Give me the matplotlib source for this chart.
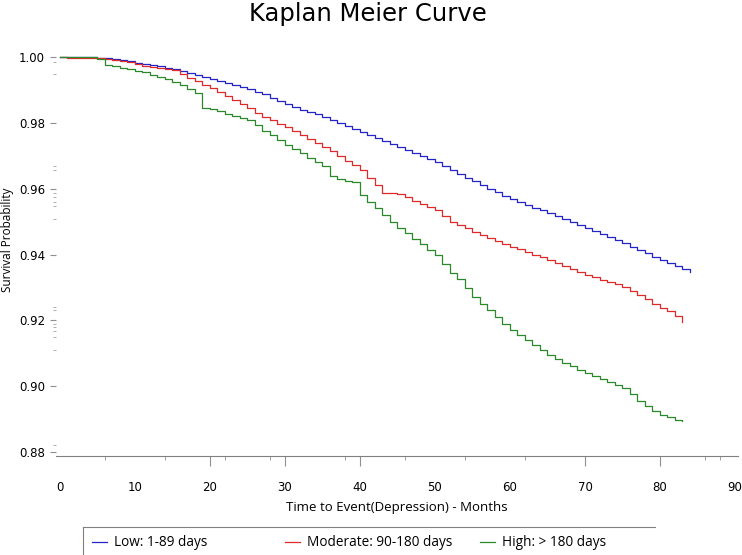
import numpy as np
import matplotlib.pyplot as plt
from matplotlib.lines import Line2D

# survival estimates, one value per month
low = [1.0000, 1.0000, 1.0000, 0.9999, 0.9999, 0.9998, 0.9996, 0.9993, 0.9991, 0.9987,
       0.9983, 0.9980, 0.9976, 0.9972, 0.9968, 0.9963, 0.9957, 0.9951, 0.9945, 0.9939,
       0.9932, 0.9926, 0.9920, 0.9914, 0.9908, 0.9902, 0.9895, 0.9888, 0.9876, 0.9866,
       0.9856, 0.9848, 0.9840, 0.9833, 0.9826, 0.9819, 0.9810, 0.9800, 0.9791, 0.9782,
       0.9773, 0.9764, 0.9755, 0.9746, 0.9737, 0.9727, 0.9718, 0.9709, 0.9699, 0.9690,
       0.9680, 0.9669, 0.9658, 0.9646, 0.9634, 0.9622, 0.9611, 0.9600, 0.9589, 0.9578,
       0.9568, 0.9559, 0.9551, 0.9542, 0.9534, 0.9525, 0.9516, 0.9507, 0.9498, 0.9489,
       0.9480, 0.9471, 0.9462, 0.9452, 0.9443, 0.9434, 0.9424, 0.9414, 0.9404, 0.9394,
       0.9383, 0.9374, 0.9365, 0.9356, 0.9347]
moderate = [1.0000, 0.9998, 0.9998, 0.9998, 0.9997, 0.9997, 0.9995, 0.9992, 0.9989, 0.9986,
            0.9978, 0.9974, 0.9970, 0.9966, 0.9963, 0.9962, 0.9947, 0.9936, 0.9926, 0.9915,
            0.9905, 0.9893, 0.9881, 0.9869, 0.9857, 0.9845, 0.9830, 0.9818, 0.9808, 0.9798,
            0.9788, 0.9776, 0.9764, 0.9751, 0.9739, 0.9727, 0.9713, 0.9699, 0.9685, 0.9671,
            0.9657, 0.9634, 0.9611, 0.9588, 0.9586, 0.9584, 0.9574, 0.9564, 0.9554, 0.9545,
            0.9535, 0.9518, 0.9500, 0.9490, 0.9480, 0.9469, 0.9460, 0.9451, 0.9442, 0.9433,
            0.9424, 0.9416, 0.9408, 0.9399, 0.9391, 0.9383, 0.9374, 0.9365, 0.9356, 0.9347,
            0.9338, 0.9331, 0.9324, 0.9316, 0.9309, 0.9302, 0.9290, 0.9278, 0.9265, 0.9250,
            0.9237, 0.9228, 0.9213, 0.9195]
high = [1.0000, 1.0000, 1.0000, 1.0000, 1.0000, 0.9995, 0.9975, 0.9972, 0.9968, 0.9963,
        0.9958, 0.9953, 0.9946, 0.9940, 0.9932, 0.9925, 0.9915, 0.9902, 0.9890, 0.9845,
        0.9842, 0.9835, 0.9828, 0.9821, 0.9815, 0.9809, 0.9792, 0.9776, 0.9762, 0.9747,
        0.9733, 0.9720, 0.9707, 0.9694, 0.9681, 0.9669, 0.9640, 0.9628, 0.9624, 0.9620,
        0.9580, 0.9560, 0.9540, 0.9520, 0.9500, 0.9480, 0.9464, 0.9448, 0.9431, 0.9414,
        0.9398, 0.9370, 0.9344, 0.9325, 0.9298, 0.9272, 0.9250, 0.9230, 0.9210, 0.9190,
        0.9171, 0.9155, 0.9140, 0.9125, 0.9110, 0.9095, 0.9083, 0.9072, 0.9061, 0.9050,
        0.9040, 0.9031, 0.9022, 0.9013, 0.9003, 0.8994, 0.8975, 0.8955, 0.8940, 0.8925,
        0.8912, 0.8905, 0.8898, 0.8894]

labels = ['Low: 1-89 days', 'Moderate: 90-180 days', 'High: > 180 days']
colors = ['#2424c8', '#e02a2a', '#2a8a2a']
series = [low, moderate, high]

xticks = list(range(0, 100, 10))
yticks = [0.88, 0.90, 0.92, 0.94, 0.96, 0.98, 1.00]

W, H = 742, 555
fig = plt.figure(figsize=(W / 100, H / 100), dpi=100)
ax = fig.add_axes([56 / W, 1 - 456 / H, 682 / W, 411 / H])

lines = []
for vals, c, lab in zip(series, colors, labels):
    months = np.arange(len(vals))
    ln, = ax.step(months, vals, where='post', color=c, lw=0.9, label=lab)
    lines.append(ln)

ax.set_xlim(-0.53, 90.4)
ax.set_ylim(0.8788, 1.00365)

for s in ['top', 'right', 'left']:
    ax.spines[s].set_visible(False)
ax.spines['bottom'].set_color('#808080')

ax.set_xticks(xticks)
ax.set_xticklabels([str(t) for t in xticks])
ax.set_xticks([6, 14, 22, 28, 38, 46, 54, 62, 86, 88], minor=True)
ax.tick_params(axis='x', which='major', length=0, pad=18, labelsize=8.5)
ax.tick_params(axis='x', which='minor', length=3, color='#909090')

# longer marks on a few of the decades
sec = ax.secondary_xaxis('bottom')
sec.set_xticks([20, 30, 40, 70, 80])
sec.set_xticklabels([])
sec.spines['bottom'].set_visible(False)
sec.tick_params(length=7, color='#909090')

ax.set_yticks(yticks)
ax.set_yticklabels(['%.2f' % v for v in yticks])
ax.set_yticks([0.9986, 0.9947, 0.9668, 0.9657, 0.9588, 0.9575, 0.9560, 0.9546, 0.9507,
               0.9242, 0.9232, 0.9190, 0.9180, 0.9168, 0.9150, 0.9110, 0.8822], minor=True)
ax.tick_params(axis='y', which='major', length=4, pad=4, labelsize=8.5, color='#909090')
ax.tick_params(axis='y', which='minor', length=2.5, color='#a0a0a0')

txt = dict(family=['Open Sans', 'DejaVu Sans'])
fig.text(368 / W, 1 - 21 / H, 'Kaplan Meier Curve', ha='center', va='baseline', fontsize=17.5,
         family='DejaVu Sans')
fig.text(8 / W, 1 - 240 / H, 'Survival Probability', rotation=90, ha='center', va='center',
         fontsize=8.5, **txt)
fig.text(397 / W, 1 - 508 / H, 'Time to Event(Depression) - Months', ha='center', va='center',
         fontsize=9.5, **txt)

# legend box (cut off by the bottom of the picture)
fig.add_artist(Line2D([83 / W, 655 / W], [1 - 527 / H, 1 - 527 / H], color='#808080', lw=0.8))
fig.add_artist(Line2D([83 / W, 83 / W], [1 - 527 / H, 0], color='#808080', lw=0.8))
for ln, xpix in zip(lines, [92, 285, 480]):
    fig.legend([ln], [ln.get_label()], loc='center left', bbox_to_anchor=(xpix / W, 1 - 543 / H),
               frameon=False, borderpad=0, borderaxespad=0, handlelength=1.1, handletextpad=0.55,
               prop={'family': ['Open Sans', 'DejaVu Sans'], 'size': 9.8})

fig.savefig('out.png', dpi=100)
